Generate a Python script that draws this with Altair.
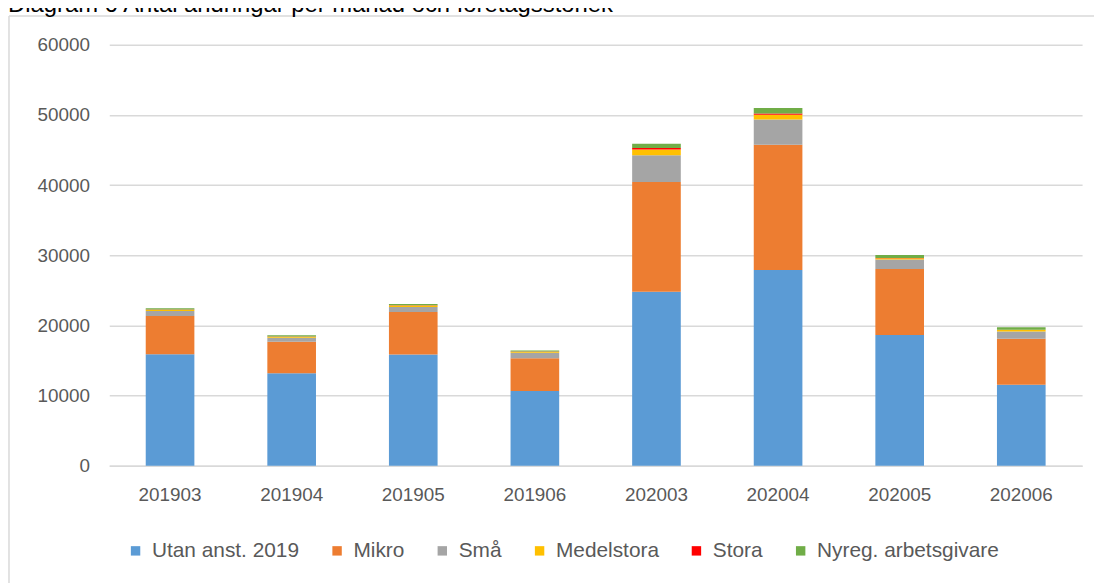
import altair as alt
import pandas as pd

months = ["201903", "201904", "201905", "201906", "202003", "202004", "202005", "202006"]
series = ["Utan anst. 2019", "Mikro", "Små", "Medelstora", "Stora", "Nyreg. arbetsgivare"]
colors = ["#5b9bd5", "#ed7d31", "#a5a5a5", "#ffc000", "#ff0000", "#70ad47"]

utan = [15900, 13200, 15850, 10650, 24800, 27900, 18630, 11560]
mikro = [5450, 4480, 6080, 4670, 15650, 17850, 9430, 6550]
sma = [700, 570, 710, 770, 3800, 3600, 1330, 1040]
medel = [190, 140, 200, 150, 840, 700, 200, 220]
stora = [30, 30, 30, 30, 200, 180, 30, 30]
nyreg = [170, 170, 170, 160, 600, 750, 420, 350]

title_text = "Diagram 6 Antal ändringar per månad och företagsstorlek"

values = [utan, mikro, sma, medel, stora, nyreg]
rows = []
for i, s in enumerate(series):
    for m, v in zip(months, values[i]):
        rows.append({"month": m, "series": s, "value": v, "order": i})
df = pd.DataFrame(rows)

FONT = "Liberation Sans"
LABEL = "#595959"
GRID = "#d9d9d9"

bars = alt.Chart(df).mark_bar().encode(
    x=alt.X("month:N", sort=months, title=None,
            scale=alt.Scale(paddingInner=0.6, paddingOuter=0.3),
            axis=alt.Axis(labelAngle=0, labelFontSize=19, labelColor=LABEL, labelFont=FONT,
                          labelPadding=20, ticks=False, domainColor=GRID, domainWidth=1.5,
                          grid=False)),
    y=alt.Y("value:Q", stack="zero", title=None,
            scale=alt.Scale(domain=[0, 60000], nice=False),
            axis=alt.Axis(values=[0, 10000, 20000, 30000, 40000, 50000, 60000], format="d",
                          labelFontSize=19, labelColor=LABEL, labelFont=FONT, labelPadding=20,
                          ticks=False, domain=False, gridColor=GRID, gridWidth=1.5)),
    color=alt.Color("series:N", sort=series,
                    scale=alt.Scale(domain=series, range=colors),
                    legend=alt.Legend(title=None, orient="none", direction="horizontal",
                                      legendX=16, legendY=499, symbolType="square",
                                      symbolSize=90, symbolStrokeWidth=0, labelFontSize=21,
                                      labelFont=FONT, labelColor=LABEL, columnPadding=27,
                                      labelOffset=6, labelLimit=0)),
    order=alt.Order("order:Q", sort="ascending"),
)

title_df = pd.DataFrame({"t": [title_text]})
title = alt.Chart(title_df).mark_text(align="left", baseline="alphabetic", fontSize=24,
                                      font=FONT, color="black").encode(
    text="t:N", x=alt.value(-102), y=alt.value(-33))

border_top = alt.Chart(title_df).mark_rule(color=GRID, strokeWidth=1.5).encode(
    x=alt.value(-101), x2=alt.value(1000), y=alt.value(-29))
border_left = alt.Chart(title_df).mark_rule(color=GRID, strokeWidth=1.5).encode(
    x=alt.value(-101), y=alt.value(-29), y2=alt.value(600))

chart = alt.layer(border_top, border_left, bars, title).properties(
    width=980, height=424,
    padding={"left": 102, "top": 35, "right": 12, "bottom": 116},
    autosize=alt.AutoSizeParams(type="none"),
).configure_view(stroke=None)

chart.save("out.html", embed_options={"renderer": "svg", "actions": False})
